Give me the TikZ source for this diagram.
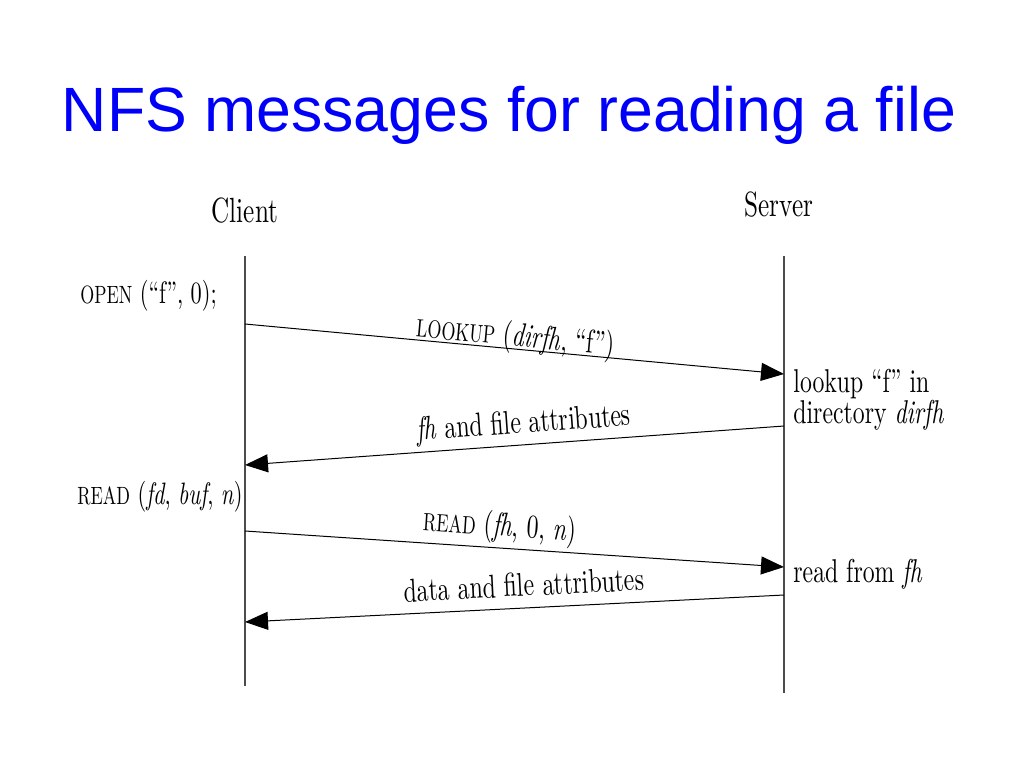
\documentclass[tikz,border=0pt]{standalone}
\usepackage{fontspec}
\usetikzlibrary{arrows.meta}
\newfontfamily\titlefont{Liberation Sans}
\newfontfamily\figfont{lmroman10-regular.otf}[ItalicFont=lmroman10-italic.otf, FakeStretch=0.72]
\definecolor{titleblue}{RGB}{0,0,250}
\newcommand{\callname}[1]{{\fontsize{12.5}{14}\selectfont #1}}

\begin{document}
\begin{tikzpicture}[x=0.5pt,y=-0.5pt,>={Triangle[length=11.5pt,width=9pt]}]
\tikzstyle{every node}=[inner sep=0pt]
\tikzstyle{lifeline}=[draw=black!70, line width=0.6pt]
\tikzstyle{msg}=[->, draw=black, line width=0.5pt]
\tikzstyle{txt}=[font=\figfont\fontsize{16.5}{15.5}\selectfont]
\tikzstyle{calltxt}=[font=\figfont\fontsize{15.5}{17}\selectfont, anchor=base west]
\tikzstyle{msgtxt}=[txt, sloped, anchor=base]
\useasboundingbox (0,0) rectangle (1024,768);
\node[font=\titlefont\fontsize{31.3}{36}\selectfont, text=titleblue, anchor=base] (title) at (509,131) {NFS messages for reading a file};
\node[txt, font=\figfont\fontsize{17.5}{20}\selectfont, anchor=base] (client) at (245,222) {Client};
\node[txt, font=\figfont\fontsize{17.5}{20}\selectfont, anchor=base] (server) at (779,216) {Server};
% lifelines
\coordinate (c0) at (245,256); \coordinate (c9) at (245,686);
\coordinate (s0) at (784,256); \coordinate (s9) at (784,693);
\draw[lifeline] (c0) -- (c9);
\draw[lifeline] (s0) -- (s9);
% client calls
\node[calltxt] (open) at (80,303) {\callname{OPEN} (“f”, 0);};
\node[calltxt] (read) at (77,504) {\callname{READ} (\textit{fd}, \textit{buf}, \textit{n})};
% server work
\node[txt, anchor=base west, align=left] (lookup) at (793,423) {lookup “f” in\\directory \textit{dirfh}};
\node[txt, anchor=base west] (readfh) at (793,582) {read from \textit{fh}};
% messages
\coordinate (c1) at (245,324); \coordinate (s1) at (784,374);
\coordinate (s2) at (784,426); \coordinate (c2) at (245,465);
\coordinate (c3) at (245,531); \coordinate (s3) at (784,567);
\coordinate (s4) at (784,595); \coordinate (c4) at (245,622);
\draw[msg] (c1) -- node[msgtxt, yshift=1.5pt, pos=.5] {\callname{LOOKUP} (\textit{dirfh}, “f”)} (s1);
\draw[msg] (s2) -- node[msgtxt, yshift=6pt, pos=.48] {\textit{fh} and file attributes} (c2);
\draw[msg] (c3) -- node[msgtxt, yshift=6pt, pos=.47] {\callname{READ} (\textit{fh}, 0, \textit{n})} (s3);
\draw[msg] (s4) -- node[msgtxt, yshift=6pt, pos=.48] {data and file attributes} (c4);
\end{tikzpicture}
\end{document}
